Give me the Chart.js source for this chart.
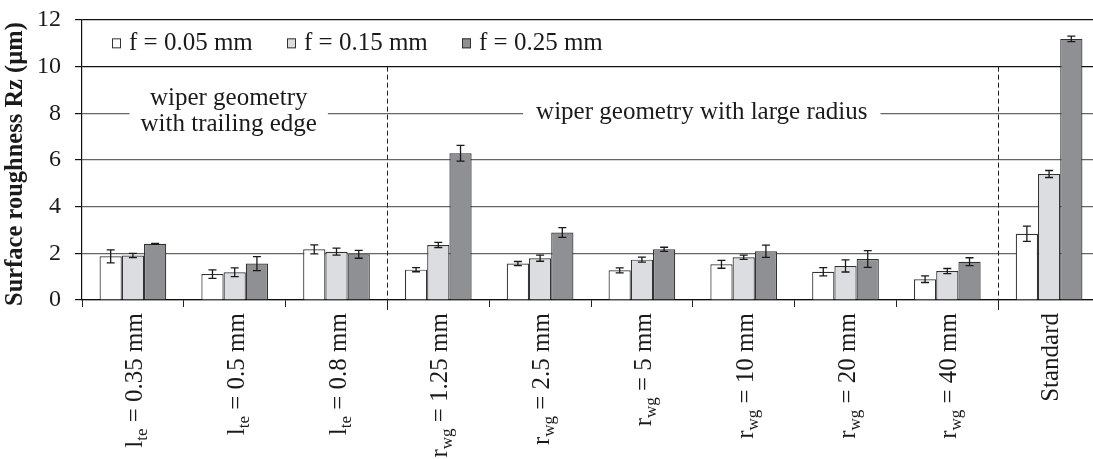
<!DOCTYPE html>
<html>
<head>
<meta charset="utf-8">
<script src="https://cdn.jsdelivr.net/npm/chart.js@4/dist/chart.umd.min.js"></script>
<style>
  html, body { margin: 0; padding: 0; background: #fff; overflow: hidden; }
  #wrap { width: 1101px; height: 459px; position: relative; }
</style>
</head>
<body>
<div id="wrap"><canvas id="rzChart"></canvas></div>
<script>
// Surface roughness Rz for different wiper geometries and feeds
const catSymbol = ['l', 'l', 'l', 'r', 'r', 'r', 'r', 'r', 'r', ''];
const catSub = ['te', 'te', 'te', 'wg', 'wg', 'wg', 'wg', 'wg', 'wg', ''];
const catText = [' = 0.35 mm', ' = 0.5 mm', ' = 0.8 mm', ' = 1.25 mm', ' = 2.5 mm',
                 ' = 5 mm', ' = 10 mm', ' = 20 mm', ' = 40 mm', 'Standard'];

const seriesNames = ['f = 0.05 mm', 'f = 0.15 mm', 'f = 0.25 mm'];
const rz005 = [1.87, 1.11, 2.17, 1.30, 1.56, 1.27, 1.53, 1.21, 0.89, 2.84];
const rz015 = [1.91, 1.19, 2.07, 2.36, 1.79, 1.73, 1.83, 1.46, 1.24, 5.40];
const rz025 = [2.41, 1.56, 1.96, 6.29, 2.89, 2.17, 2.09, 1.76, 1.64, 11.19];
const err005 = [0.28, 0.18, 0.19, 0.09, 0.09, 0.11, 0.17, 0.18, 0.14, 0.33];
const err015 = [0.09, 0.19, 0.15, 0.11, 0.13, 0.11, 0.09, 0.26, 0.11, 0.15];
const err025 = [0.02, 0.30, 0.17, 0.34, 0.21, 0.09, 0.26, 0.36, 0.17, 0.12];

const yTicks = [0, 2, 4, 6, 8, 10, 12];
const yTitle = 'Surface roughness Rz (µm)';

const categories = catSymbol.map((s, i) => s + catSub[i] + catText[i]);
const errors = [err005, err015, err025];
const fills = ['#ffffff', '#dcdde0', '#8f9094'];
const SERIF = '"Liberation Serif", "DejaVu Serif", serif';
const TXT = '25px ' + SERIF;
const SUB = '17px ' + SERIF;

// error bars on top of each bar
const errorBars = {
    id: 'errorBars',
    afterDatasetsDraw(chart) {
        const ctx = chart.ctx;
        const y = chart.scales.y;
        ctx.save();
        ctx.strokeStyle = '#1a1a1a';
        ctx.lineWidth = 1.3;
        chart.data.datasets.forEach((ds, d) => {
            chart.getDatasetMeta(d).data.forEach((bar, i) => {
                const v = ds.data[i], e = errors[d][i];
                const top = y.getPixelForValue(v + e);
                const bot = y.getPixelForValue(v - e);
                ctx.beginPath();
                ctx.moveTo(bar.x, top); ctx.lineTo(bar.x, bot);
                ctx.moveTo(bar.x - 4, top); ctx.lineTo(bar.x + 4, top);
                ctx.moveTo(bar.x - 4, bot); ctx.lineTo(bar.x + 4, bot);
                ctx.stroke();
            });
        });
        ctx.restore();
    }
};

// group labels, separators, legend, axis title and rotated category labels
const decorations = {
    id: 'decorations',
    beforeDatasetsDraw(chart) {
        const ctx = chart.ctx;
        const x = chart.scales.x, y = chart.scales.y;
        const area = chart.chartArea;
        const sep1 = (x.getPixelForValue(2) + x.getPixelForValue(3)) / 2;
        const sep2 = (x.getPixelForValue(8) + x.getPixelForValue(9)) / 2;
        const y8 = y.getPixelForValue(8);
        ctx.save();
        ctx.font = TXT;
        ctx.fillStyle = '#1a1a1a';
        ctx.textAlign = 'center';
        ctx.textBaseline = 'middle';

        // group 1 label, two lines
        const c1 = (area.left + sep1) / 2 - 6;
        const w1 = Math.max(ctx.measureText('wiper geometry').width,
                            ctx.measureText('with trailing edge').width) + 22;
        ctx.fillStyle = '#fff';
        ctx.fillRect(c1 - w1 / 2, y8 - 30, w1, 60);
        ctx.fillStyle = '#1a1a1a';
        ctx.fillText('wiper geometry', c1, y8 - 15);
        ctx.fillText('with trailing edge', c1, y8 + 11);

        // group 2 label, one line
        const c2 = (sep1 + sep2) / 2 + 9;
        const t2 = 'wiper geometry with large radius';
        const w2 = ctx.measureText(t2).width + 26;
        ctx.fillStyle = '#fff';
        ctx.fillRect(c2 - w2 / 2, y8 - 15, w2, 30);
        ctx.fillStyle = '#1a1a1a';
        ctx.fillText(t2, c2, y8 - 1);

        // legend between 10 and 12
        const ly = y.getPixelForValue(11);
        ctx.textAlign = 'left';
        let lx = area.left + 30;
        seriesNames.forEach((name, d) => {
            ctx.fillStyle = fills[d];
            ctx.fillRect(lx, ly - 5, 9, 10);
            ctx.strokeStyle = '#333';
            ctx.lineWidth = 1;
            ctx.strokeRect(lx + 0.5, ly - 4.5, 8, 9);
            ctx.fillStyle = '#1a1a1a';
            ctx.fillText(name, lx + 17, ly);
            lx += 175;
        });
        ctx.restore();
    },
    afterDraw(chart) {
        const ctx = chart.ctx;
        const x = chart.scales.x, y = chart.scales.y;
        const area = chart.chartArea;
        ctx.save();
        // dashed separators
        ctx.strokeStyle = '#222';
        ctx.lineWidth = 1;
        ctx.setLineDash([5, 3]);
        [[2, 3], [8, 9]].forEach(([a, b]) => {
            const sx = Math.round((x.getPixelForValue(a) + x.getPixelForValue(b)) / 2) + 0.5;
            ctx.beginPath();
            ctx.moveTo(sx, y.getPixelForValue(10));
            ctx.lineTo(sx, area.bottom + 10);
            ctx.stroke();
        });
        ctx.setLineDash([]);

        // y axis title
        ctx.fillStyle = '#1a1a1a';
        ctx.save();
        ctx.translate(16, (area.top + area.bottom) / 2 + 4);
        ctx.rotate(-Math.PI / 2);
        ctx.font = 'bold 24.5px ' + SERIF;
        ctx.textAlign = 'center';
        ctx.textBaseline = 'middle';
        ctx.fillText(yTitle, 0, 0);
        ctx.restore();

        // rotated category labels with subscripts
        ctx.textBaseline = 'alphabetic';
        categories.forEach((c, i) => {
            const cx = x.getPixelForValue(i);
            ctx.save();
            ctx.translate(cx + 9, area.bottom + 13);
            ctx.rotate(-Math.PI / 2);
            ctx.font = TXT;
            const wMain = ctx.measureText(catText[i]).width;
            const wSym = ctx.measureText(catSymbol[i]).width;
            ctx.font = SUB;
            const wSub = ctx.measureText(catSub[i]).width;
            let px = -(wMain + wSub + wSym);
            ctx.textAlign = 'left';
            ctx.font = TXT;
            ctx.fillText(catSymbol[i], px, 0);
            px += wSym;
            ctx.font = SUB;
            ctx.fillText(catSub[i], px, 5);
            px += wSub;
            ctx.font = TXT;
            ctx.fillText(catText[i], px, 0);
            ctx.restore();
        });
        ctx.restore();
    }
};

new Chart(document.getElementById('rzChart'), {
    type: 'bar',
    data: {
        labels: categories,
        datasets: [rz005, rz015, rz025].map((vals, d) => ({
            label: seriesNames[d],
            data: vals,
            backgroundColor: fills[d],
            borderColor: '#333333',
            borderWidth: 1.2,
            categoryPercentage: 0.655,
            barPercentage: 1.0
        }))
    },
    options: {
        responsive: true,
        maintainAspectRatio: false,
        animation: false,
        layout: { padding: { top: 20, right: 1, left: 0, bottom: 0 } },
        plugins: {
            legend: { display: false },
            tooltip: { enabled: false }
        },
        scales: {
            x: {
                offset: true,
                grid: {
                    display: true,
                    offset: true,
                    drawOnChartArea: false,
                    drawTicks: true,
                    tickLength: 7,
                    color: '#222'
                },
                border: { display: true, color: '#111', width: 1.2 },
                ticks: { callback: () => '', maxRotation: 0 },
                afterFit(scale) { scale.height = 159; }
            },
            y: {
                min: 0,
                max: 12,
                afterBuildTicks(scale) { scale.ticks = yTicks.map(v => ({ value: v })); },
                grid: {
                    color: ctx => (ctx.tick && ctx.tick.value >= 10 ? '#111' : '#666'),
                    lineWidth: 1.2,
                    drawTicks: true,
                    tickLength: 7,
                    tickColor: '#111'
                },
                border: { display: true, color: '#111', width: 1.2 },
                ticks: {
                    padding: 14,
                    color: '#1a1a1a',
                    font: { family: SERIF, size: 24 }
                },
                title: { display: false },
                afterFit(scale) {
                    scale.width = 82;
                    scale.paddingTop = 0;
                    scale.paddingBottom = 0;
                }
            }
        }
    },
    plugins: [errorBars, decorations]
});
</script>
</body>
</html>
